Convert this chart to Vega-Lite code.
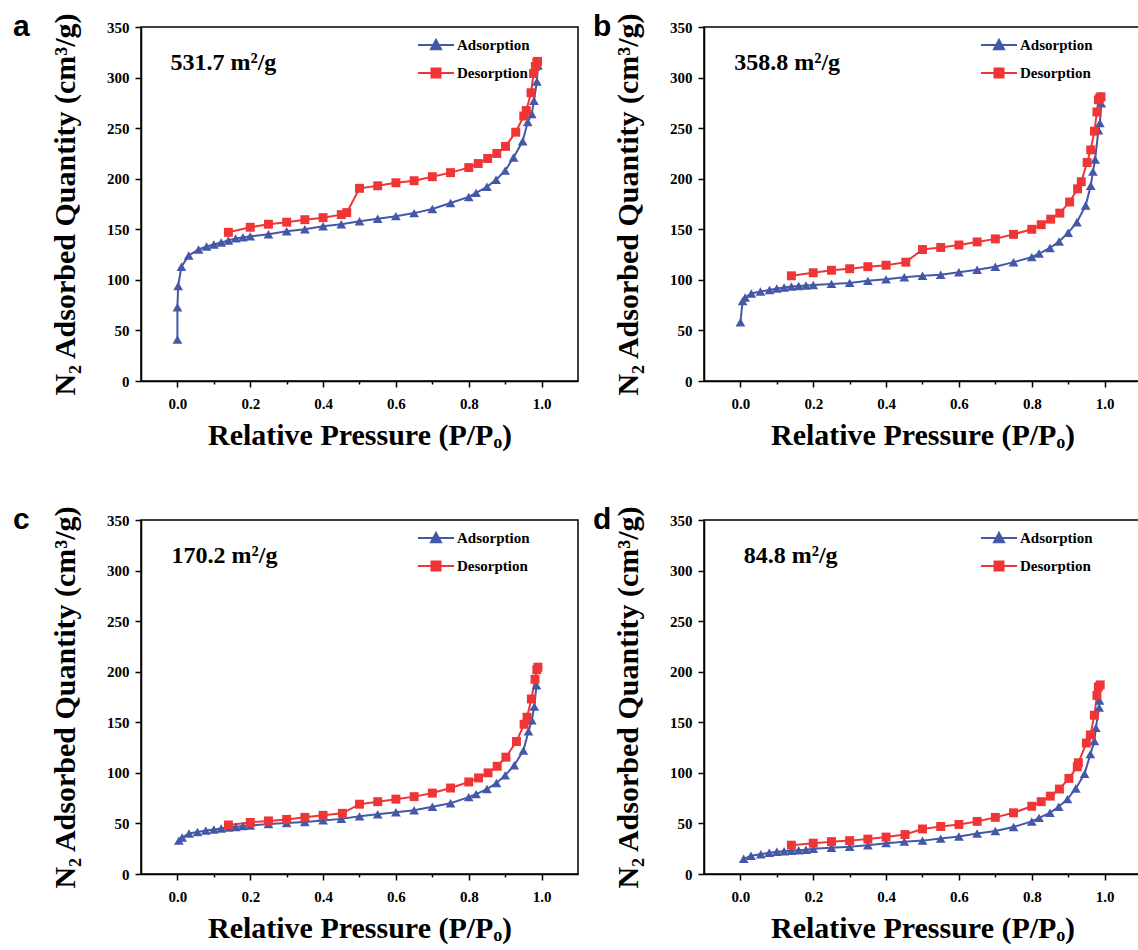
{
  "$schema": "https://vega.github.io/schema/vega-lite/v6.json",
  "background": "white",
  "padding": {"left": 12, "top": 11, "right": 0, "bottom": 0},
  "datasets": {
    "iso": [
      {"p":"a","s":"Adsorption","x":0,"y":41},{"p":"a","s":"Adsorption","x":0,"y":73},{"p":"a","s":"Adsorption","x":0.002,"y":94},{"p":"a","s":"Adsorption","x":0.011,"y":113},{"p":"a","s":"Adsorption","x":0.031,"y":124},{"p":"a","s":"Adsorption","x":0.058,"y":130},{"p":"a","s":"Adsorption","x":0.08,"y":133},{"p":"a","s":"Adsorption","x":0.1,"y":135},{"p":"a","s":"Adsorption","x":0.12,"y":137},{"p":"a","s":"Adsorption","x":0.14,"y":139},{"p":"a","s":"Adsorption","x":0.16,"y":141},{"p":"a","s":"Adsorption","x":0.18,"y":142},{"p":"a","s":"Adsorption","x":0.2,"y":143},{"p":"a","s":"Adsorption","x":0.25,"y":145},{"p":"a","s":"Adsorption","x":0.3,"y":148},{"p":"a","s":"Adsorption","x":0.35,"y":150},{"p":"a","s":"Adsorption","x":0.4,"y":153},{"p":"a","s":"Adsorption","x":0.45,"y":155},{"p":"a","s":"Adsorption","x":0.5,"y":158},{"p":"a","s":"Adsorption","x":0.55,"y":160.5},{"p":"a","s":"Adsorption","x":0.6,"y":163},{"p":"a","s":"Adsorption","x":0.65,"y":166},{"p":"a","s":"Adsorption","x":0.7,"y":170},{"p":"a","s":"Adsorption","x":0.75,"y":176},{"p":"a","s":"Adsorption","x":0.8,"y":182},{"p":"a","s":"Adsorption","x":0.82,"y":186},{"p":"a","s":"Adsorption","x":0.85,"y":192},{"p":"a","s":"Adsorption","x":0.875,"y":199},{"p":"a","s":"Adsorption","x":0.9,"y":208},{"p":"a","s":"Adsorption","x":0.923,"y":221},{"p":"a","s":"Adsorption","x":0.948,"y":237},{"p":"a","s":"Adsorption","x":0.962,"y":256},{"p":"a","s":"Adsorption","x":0.973,"y":264},{"p":"a","s":"Adsorption","x":0.979,"y":277},{"p":"a","s":"Adsorption","x":0.987,"y":296},{"p":"a","s":"Adsorption","x":0.99,"y":312},
      {"p":"a","s":"Desorption","x":0.14,"y":147},{"p":"a","s":"Desorption","x":0.2,"y":152},{"p":"a","s":"Desorption","x":0.25,"y":155},{"p":"a","s":"Desorption","x":0.3,"y":157},{"p":"a","s":"Desorption","x":0.35,"y":159.5},{"p":"a","s":"Desorption","x":0.4,"y":161.5},{"p":"a","s":"Desorption","x":0.45,"y":164.5},{"p":"a","s":"Desorption","x":0.465,"y":166.5},{"p":"a","s":"Desorption","x":0.5,"y":190.5},{"p":"a","s":"Desorption","x":0.55,"y":193},{"p":"a","s":"Desorption","x":0.6,"y":196},{"p":"a","s":"Desorption","x":0.65,"y":198},{"p":"a","s":"Desorption","x":0.7,"y":202},{"p":"a","s":"Desorption","x":0.75,"y":206},{"p":"a","s":"Desorption","x":0.8,"y":211},{"p":"a","s":"Desorption","x":0.826,"y":215},{"p":"a","s":"Desorption","x":0.852,"y":220},{"p":"a","s":"Desorption","x":0.877,"y":225},{"p":"a","s":"Desorption","x":0.901,"y":232},{"p":"a","s":"Desorption","x":0.929,"y":246},{"p":"a","s":"Desorption","x":0.951,"y":262},{"p":"a","s":"Desorption","x":0.958,"y":267.5},{"p":"a","s":"Desorption","x":0.971,"y":285},{"p":"a","s":"Desorption","x":0.978,"y":304},{"p":"a","s":"Desorption","x":0.983,"y":311},{"p":"a","s":"Desorption","x":0.987,"y":315},{"p":"a","s":"Desorption","x":0.989,"y":316},

      {"p":"b","s":"Adsorption","x":0,"y":58},{"p":"b","s":"Adsorption","x":0.006,"y":79},{"p":"b","s":"Adsorption","x":0.013,"y":82.5},{"p":"b","s":"Adsorption","x":0.03,"y":86.5},{"p":"b","s":"Adsorption","x":0.055,"y":88.5},{"p":"b","s":"Adsorption","x":0.08,"y":90},{"p":"b","s":"Adsorption","x":0.1,"y":91.5},{"p":"b","s":"Adsorption","x":0.12,"y":92.5},{"p":"b","s":"Adsorption","x":0.14,"y":93.5},{"p":"b","s":"Adsorption","x":0.16,"y":94},{"p":"b","s":"Adsorption","x":0.18,"y":94.5},{"p":"b","s":"Adsorption","x":0.2,"y":95},{"p":"b","s":"Adsorption","x":0.25,"y":96},{"p":"b","s":"Adsorption","x":0.3,"y":97},{"p":"b","s":"Adsorption","x":0.35,"y":99},{"p":"b","s":"Adsorption","x":0.4,"y":100.5},{"p":"b","s":"Adsorption","x":0.45,"y":102.5},{"p":"b","s":"Adsorption","x":0.5,"y":104},{"p":"b","s":"Adsorption","x":0.55,"y":105},{"p":"b","s":"Adsorption","x":0.6,"y":107.5},{"p":"b","s":"Adsorption","x":0.65,"y":110},{"p":"b","s":"Adsorption","x":0.7,"y":113},{"p":"b","s":"Adsorption","x":0.75,"y":117.5},{"p":"b","s":"Adsorption","x":0.8,"y":122.5},{"p":"b","s":"Adsorption","x":0.82,"y":126},{"p":"b","s":"Adsorption","x":0.85,"y":131.5},{"p":"b","s":"Adsorption","x":0.875,"y":138},{"p":"b","s":"Adsorption","x":0.9,"y":146.5},{"p":"b","s":"Adsorption","x":0.924,"y":157},{"p":"b","s":"Adsorption","x":0.948,"y":173.5},{"p":"b","s":"Adsorption","x":0.962,"y":193},{"p":"b","s":"Adsorption","x":0.968,"y":207},{"p":"b","s":"Adsorption","x":0.974,"y":219},{"p":"b","s":"Adsorption","x":0.983,"y":248},{"p":"b","s":"Adsorption","x":0.987,"y":255},{"p":"b","s":"Adsorption","x":0.991,"y":274.5},{"p":"b","s":"Adsorption","x":0.99,"y":282},
      {"p":"b","s":"Desorption","x":0.14,"y":104},{"p":"b","s":"Desorption","x":0.2,"y":107},{"p":"b","s":"Desorption","x":0.25,"y":109.5},{"p":"b","s":"Desorption","x":0.3,"y":111},{"p":"b","s":"Desorption","x":0.35,"y":113},{"p":"b","s":"Desorption","x":0.4,"y":114.5},{"p":"b","s":"Desorption","x":0.454,"y":117.5},{"p":"b","s":"Desorption","x":0.5,"y":130},{"p":"b","s":"Desorption","x":0.55,"y":132},{"p":"b","s":"Desorption","x":0.6,"y":134.5},{"p":"b","s":"Desorption","x":0.65,"y":137.5},{"p":"b","s":"Desorption","x":0.7,"y":140.5},{"p":"b","s":"Desorption","x":0.75,"y":145},{"p":"b","s":"Desorption","x":0.8,"y":150},{"p":"b","s":"Desorption","x":0.826,"y":154.5},{"p":"b","s":"Desorption","x":0.852,"y":160},{"p":"b","s":"Desorption","x":0.877,"y":166},{"p":"b","s":"Desorption","x":0.904,"y":177},{"p":"b","s":"Desorption","x":0.926,"y":190},{"p":"b","s":"Desorption","x":0.936,"y":197},{"p":"b","s":"Desorption","x":0.952,"y":216},{"p":"b","s":"Desorption","x":0.962,"y":228.5},{"p":"b","s":"Desorption","x":0.972,"y":247},{"p":"b","s":"Desorption","x":0.979,"y":266},{"p":"b","s":"Desorption","x":0.983,"y":278},{"p":"b","s":"Desorption","x":0.987,"y":280},{"p":"b","s":"Desorption","x":0.99,"y":281},

      {"p":"c","s":"Adsorption","x":0.004,"y":33},{"p":"c","s":"Adsorption","x":0.013,"y":36},{"p":"c","s":"Adsorption","x":0.032,"y":40},{"p":"c","s":"Adsorption","x":0.055,"y":41.5},{"p":"c","s":"Adsorption","x":0.078,"y":43},{"p":"c","s":"Adsorption","x":0.1,"y":44},{"p":"c","s":"Adsorption","x":0.12,"y":45},{"p":"c","s":"Adsorption","x":0.14,"y":46},{"p":"c","s":"Adsorption","x":0.16,"y":46.5},{"p":"c","s":"Adsorption","x":0.18,"y":47.5},{"p":"c","s":"Adsorption","x":0.2,"y":48},{"p":"c","s":"Adsorption","x":0.25,"y":49.5},{"p":"c","s":"Adsorption","x":0.3,"y":50.5},{"p":"c","s":"Adsorption","x":0.35,"y":51.5},{"p":"c","s":"Adsorption","x":0.4,"y":53},{"p":"c","s":"Adsorption","x":0.45,"y":54.5},{"p":"c","s":"Adsorption","x":0.5,"y":57},{"p":"c","s":"Adsorption","x":0.55,"y":59},{"p":"c","s":"Adsorption","x":0.6,"y":61},{"p":"c","s":"Adsorption","x":0.65,"y":63},{"p":"c","s":"Adsorption","x":0.7,"y":66.5},{"p":"c","s":"Adsorption","x":0.75,"y":70},{"p":"c","s":"Adsorption","x":0.8,"y":76},{"p":"c","s":"Adsorption","x":0.82,"y":79},{"p":"c","s":"Adsorption","x":0.85,"y":84},{"p":"c","s":"Adsorption","x":0.876,"y":90},{"p":"c","s":"Adsorption","x":0.9,"y":97.5},{"p":"c","s":"Adsorption","x":0.925,"y":107.5},{"p":"c","s":"Adsorption","x":0.95,"y":122},{"p":"c","s":"Adsorption","x":0.964,"y":141},{"p":"c","s":"Adsorption","x":0.973,"y":152},{"p":"c","s":"Adsorption","x":0.98,"y":165.5},{"p":"c","s":"Adsorption","x":0.986,"y":186.5},
      {"p":"c","s":"Desorption","x":0.14,"y":48.5},{"p":"c","s":"Desorption","x":0.2,"y":51},{"p":"c","s":"Desorption","x":0.25,"y":52.5},{"p":"c","s":"Desorption","x":0.3,"y":54},{"p":"c","s":"Desorption","x":0.35,"y":56},{"p":"c","s":"Desorption","x":0.4,"y":58},{"p":"c","s":"Desorption","x":0.453,"y":60},{"p":"c","s":"Desorption","x":0.5,"y":69},{"p":"c","s":"Desorption","x":0.55,"y":71.5},{"p":"c","s":"Desorption","x":0.6,"y":74},{"p":"c","s":"Desorption","x":0.65,"y":76.5},{"p":"c","s":"Desorption","x":0.7,"y":80},{"p":"c","s":"Desorption","x":0.75,"y":85},{"p":"c","s":"Desorption","x":0.8,"y":91},{"p":"c","s":"Desorption","x":0.827,"y":95},{"p":"c","s":"Desorption","x":0.853,"y":100},{"p":"c","s":"Desorption","x":0.878,"y":106.5},{"p":"c","s":"Desorption","x":0.902,"y":115.5},{"p":"c","s":"Desorption","x":0.931,"y":131},{"p":"c","s":"Desorption","x":0.952,"y":148},{"p":"c","s":"Desorption","x":0.96,"y":155},{"p":"c","s":"Desorption","x":0.972,"y":173},{"p":"c","s":"Desorption","x":0.982,"y":192.5},{"p":"c","s":"Desorption","x":0.987,"y":202},{"p":"c","s":"Desorption","x":0.99,"y":204.5},

      {"p":"d","s":"Adsorption","x":0.009,"y":15},{"p":"d","s":"Adsorption","x":0.029,"y":18},{"p":"d","s":"Adsorption","x":0.056,"y":19.5},{"p":"d","s":"Adsorption","x":0.079,"y":21},{"p":"d","s":"Adsorption","x":0.1,"y":22},{"p":"d","s":"Adsorption","x":0.12,"y":22.5},{"p":"d","s":"Adsorption","x":0.14,"y":23},{"p":"d","s":"Adsorption","x":0.16,"y":23.5},{"p":"d","s":"Adsorption","x":0.18,"y":24},{"p":"d","s":"Adsorption","x":0.2,"y":25},{"p":"d","s":"Adsorption","x":0.25,"y":26},{"p":"d","s":"Adsorption","x":0.3,"y":27},{"p":"d","s":"Adsorption","x":0.35,"y":28.5},{"p":"d","s":"Adsorption","x":0.4,"y":30.5},{"p":"d","s":"Adsorption","x":0.45,"y":32},{"p":"d","s":"Adsorption","x":0.5,"y":33},{"p":"d","s":"Adsorption","x":0.55,"y":35},{"p":"d","s":"Adsorption","x":0.6,"y":37},{"p":"d","s":"Adsorption","x":0.65,"y":40},{"p":"d","s":"Adsorption","x":0.7,"y":42.5},{"p":"d","s":"Adsorption","x":0.75,"y":46.5},{"p":"d","s":"Adsorption","x":0.8,"y":52},{"p":"d","s":"Adsorption","x":0.82,"y":55.5},{"p":"d","s":"Adsorption","x":0.85,"y":60.5},{"p":"d","s":"Adsorption","x":0.874,"y":66.5},{"p":"d","s":"Adsorption","x":0.898,"y":74},{"p":"d","s":"Adsorption","x":0.921,"y":84.5},{"p":"d","s":"Adsorption","x":0.945,"y":99},{"p":"d","s":"Adsorption","x":0.961,"y":118.5},{"p":"d","s":"Adsorption","x":0.972,"y":131.5},{"p":"d","s":"Adsorption","x":0.976,"y":144.5},{"p":"d","s":"Adsorption","x":0.985,"y":164.5},{"p":"d","s":"Adsorption","x":0.986,"y":171.5},
      {"p":"d","s":"Desorption","x":0.14,"y":28.5},{"p":"d","s":"Desorption","x":0.2,"y":30.5},{"p":"d","s":"Desorption","x":0.25,"y":32},{"p":"d","s":"Desorption","x":0.3,"y":33},{"p":"d","s":"Desorption","x":0.35,"y":34.5},{"p":"d","s":"Desorption","x":0.4,"y":36.5},{"p":"d","s":"Desorption","x":0.452,"y":39},{"p":"d","s":"Desorption","x":0.5,"y":44.5},{"p":"d","s":"Desorption","x":0.55,"y":47},{"p":"d","s":"Desorption","x":0.6,"y":49},{"p":"d","s":"Desorption","x":0.65,"y":52},{"p":"d","s":"Desorption","x":0.7,"y":56},{"p":"d","s":"Desorption","x":0.75,"y":60.5},{"p":"d","s":"Desorption","x":0.8,"y":67},{"p":"d","s":"Desorption","x":0.826,"y":71.5},{"p":"d","s":"Desorption","x":0.851,"y":77},{"p":"d","s":"Desorption","x":0.876,"y":84},{"p":"d","s":"Desorption","x":0.902,"y":94.5},{"p":"d","s":"Desorption","x":0.925,"y":106},{"p":"d","s":"Desorption","x":0.928,"y":110},{"p":"d","s":"Desorption","x":0.95,"y":129.5},{"p":"d","s":"Desorption","x":0.961,"y":137.5},{"p":"d","s":"Desorption","x":0.972,"y":157},{"p":"d","s":"Desorption","x":0.979,"y":176.5},{"p":"d","s":"Desorption","x":0.983,"y":185},{"p":"d","s":"Desorption","x":0.988,"y":187}
    ],
    "ann": [
      {"p":"a","x":-0.019,"y":307,"t":"531.7 m²/g"},
      {"p":"b","x":-0.017,"y":307,"t":"358.8 m²/g"},
      {"p":"c","x":-0.016,"y":307,"t":"170.2 m²/g"},
      {"p":"d","x":0.009,"y":307,"t":"84.8 m²/g"}
    ]
  },
  "columns": 2,
  "spacing": {"row": 53, "column": 13},
  "resolve": {"scale": {"color": "independent", "x": "independent", "y": "independent"}, "legend": {"color": "independent"}},
  "concat": [
    {
      "title": {"text": "a", "anchor": "start", "frame": "group", "dx": -128, "dy": 54, "offset": 0, "baseline": "alphabetic", "font": "Liberation Sans", "fontSize": 30, "fontWeight": "bold", "color": "black"},
      "width": 437, "height": 354,
      "layer": [
        {"data": {"name": "iso"}, "transform": [{"filter": "datum.p === 'a'"}], "mark": {"type": "line", "strokeWidth": 2}, "encoding": {
          "x": {"field": "x", "type": "quantitative", "scale": {"domain": [-0.1, 1.1], "nice": false, "zero": false}, "axis": {"title": "Relative Pressure (P/Pₒ)", "values": [0,0.1,0.2,0.3,0.4,0.5,0.6,0.7,0.8,0.9,1.0], "labelExpr": "round(datum.value*10) % 2 === 0 ? format(datum.value, '.1f') : ''", "tickSize": {"condition": {"test": "round(datum.value*10) % 2 === 0", "value": 6}, "value": 3}}},
          "y": {"field": "y", "type": "quantitative", "scale": {"domain": [0, 350], "nice": false}, "axis": {"title": "N₂ Adsorbed Quantity (cm³/g)", "values": [0,25,50,75,100,125,150,175,200,225,250,275,300,325,350], "labelExpr": "datum.value % 50 === 0 ? datum.label : ''", "tickSize": {"condition": {"test": "datum.value % 50 === 0", "value": 6}, "value": 3}}},
          "color": {"field": "s", "type": "nominal", "scale": {"domain": ["Adsorption", "Desorption"], "range": ["#4558A8", "#EF3535"]}, "legend": {"encode": {"symbols": {"update": {
            "shape": {"signal": "datum.value === 'Adsorption' ? 'M-1,0H1M-0.28,0.24L0,-0.28L0.28,0.24Z' : 'M-1,0H1M-0.25,-0.25H0.25V0.25H-0.25Z'"},
            "fill": {"signal": "datum.value === 'Adsorption' ? '#4558A8' : '#EF3535'"},
            "stroke": {"signal": "datum.value === 'Adsorption' ? '#4558A8' : '#EF3535'"},
            "strokeWidth": {"value": 2}, "opacity": {"value": 1}}}}}},
          "order": {"field": "y", "type": "quantitative"}}},
        {"data": {"name": "iso"}, "transform": [{"filter": "datum.p === 'a' && datum.s === 'Adsorption'"}], "mark": {"type": "point", "filled": true, "shape": "triangle-up", "size": 95, "opacity": 1}, "encoding": {
          "x": {"field": "x", "type": "quantitative"}, "y": {"field": "y", "type": "quantitative"}, "color": {"field": "s", "type": "nominal"}}},
        {"data": {"name": "iso"}, "transform": [{"filter": "datum.p === 'a' && datum.s === 'Desorption'"}], "mark": {"type": "point", "filled": true, "shape": "square", "size": 80, "opacity": 1}, "encoding": {
          "x": {"field": "x", "type": "quantitative"}, "y": {"field": "y", "type": "quantitative"}, "color": {"field": "s", "type": "nominal"}}},
        {"data": {"name": "ann"}, "transform": [{"filter": "datum.p === 'a'"}], "mark": {"type": "text", "align": "left", "baseline": "alphabetic", "font": "Liberation Serif", "fontSize": 24, "fontWeight": "bold", "color": "black"}, "encoding": {
          "x": {"field": "x", "type": "quantitative"}, "y": {"field": "y", "type": "quantitative"}, "text": {"field": "t"}}}
      ]
    },
    {
      "title": {"text": "b", "anchor": "start", "frame": "group", "dx": -111, "dy": 54, "offset": 0, "baseline": "alphabetic", "font": "Liberation Sans", "fontSize": 30, "fontWeight": "bold", "color": "black"},
      "width": 437, "height": 354,
      "layer": [
        {"data": {"name": "iso"}, "transform": [{"filter": "datum.p === 'b'"}], "mark": {"type": "line", "strokeWidth": 2}, "encoding": {
          "x": {"field": "x", "type": "quantitative", "scale": {"domain": [-0.1, 1.1], "nice": false, "zero": false}, "axis": {"title": "Relative Pressure (P/Pₒ)", "values": [0,0.1,0.2,0.3,0.4,0.5,0.6,0.7,0.8,0.9,1.0], "labelExpr": "round(datum.value*10) % 2 === 0 ? format(datum.value, '.1f') : ''", "tickSize": {"condition": {"test": "round(datum.value*10) % 2 === 0", "value": 6}, "value": 3}}},
          "y": {"field": "y", "type": "quantitative", "scale": {"domain": [0, 350], "nice": false}, "axis": {"title": "N₂ Adsorbed Quantity (cm³/g)", "values": [0,25,50,75,100,125,150,175,200,225,250,275,300,325,350], "labelExpr": "datum.value % 50 === 0 ? datum.label : ''", "tickSize": {"condition": {"test": "datum.value % 50 === 0", "value": 6}, "value": 3}}},
          "color": {"field": "s", "type": "nominal", "scale": {"domain": ["Adsorption", "Desorption"], "range": ["#4558A8", "#EF3535"]}, "legend": {"encode": {"symbols": {"update": {
            "shape": {"signal": "datum.value === 'Adsorption' ? 'M-1,0H1M-0.28,0.24L0,-0.28L0.28,0.24Z' : 'M-1,0H1M-0.25,-0.25H0.25V0.25H-0.25Z'"},
            "fill": {"signal": "datum.value === 'Adsorption' ? '#4558A8' : '#EF3535'"},
            "stroke": {"signal": "datum.value === 'Adsorption' ? '#4558A8' : '#EF3535'"},
            "strokeWidth": {"value": 2}, "opacity": {"value": 1}}}}}},
          "order": {"field": "y", "type": "quantitative"}}},
        {"data": {"name": "iso"}, "transform": [{"filter": "datum.p === 'b' && datum.s === 'Adsorption'"}], "mark": {"type": "point", "filled": true, "shape": "triangle-up", "size": 95, "opacity": 1}, "encoding": {
          "x": {"field": "x", "type": "quantitative"}, "y": {"field": "y", "type": "quantitative"}, "color": {"field": "s", "type": "nominal"}}},
        {"data": {"name": "iso"}, "transform": [{"filter": "datum.p === 'b' && datum.s === 'Desorption'"}], "mark": {"type": "point", "filled": true, "shape": "square", "size": 80, "opacity": 1}, "encoding": {
          "x": {"field": "x", "type": "quantitative"}, "y": {"field": "y", "type": "quantitative"}, "color": {"field": "s", "type": "nominal"}}},
        {"data": {"name": "ann"}, "transform": [{"filter": "datum.p === 'b'"}], "mark": {"type": "text", "align": "left", "baseline": "alphabetic", "font": "Liberation Serif", "fontSize": 24, "fontWeight": "bold", "color": "black"}, "encoding": {
          "x": {"field": "x", "type": "quantitative"}, "y": {"field": "y", "type": "quantitative"}, "text": {"field": "t"}}}
      ]
    },
    {
      "title": {"text": "c", "anchor": "start", "frame": "group", "dx": -128, "dy": 54, "offset": 0, "baseline": "alphabetic", "font": "Liberation Sans", "fontSize": 30, "fontWeight": "bold", "color": "black"},
      "width": 437, "height": 354,
      "layer": [
        {"data": {"name": "iso"}, "transform": [{"filter": "datum.p === 'c'"}], "mark": {"type": "line", "strokeWidth": 2}, "encoding": {
          "x": {"field": "x", "type": "quantitative", "scale": {"domain": [-0.1, 1.1], "nice": false, "zero": false}, "axis": {"title": "Relative Pressure (P/Pₒ)", "values": [0,0.1,0.2,0.3,0.4,0.5,0.6,0.7,0.8,0.9,1.0], "labelExpr": "round(datum.value*10) % 2 === 0 ? format(datum.value, '.1f') : ''", "tickSize": {"condition": {"test": "round(datum.value*10) % 2 === 0", "value": 6}, "value": 3}}},
          "y": {"field": "y", "type": "quantitative", "scale": {"domain": [0, 350], "nice": false}, "axis": {"title": "N₂ Adsorbed Quantity (cm³/g)", "values": [0,25,50,75,100,125,150,175,200,225,250,275,300,325,350], "labelExpr": "datum.value % 50 === 0 ? datum.label : ''", "tickSize": {"condition": {"test": "datum.value % 50 === 0", "value": 6}, "value": 3}}},
          "color": {"field": "s", "type": "nominal", "scale": {"domain": ["Adsorption", "Desorption"], "range": ["#4558A8", "#EF3535"]}, "legend": {"encode": {"symbols": {"update": {
            "shape": {"signal": "datum.value === 'Adsorption' ? 'M-1,0H1M-0.28,0.24L0,-0.28L0.28,0.24Z' : 'M-1,0H1M-0.25,-0.25H0.25V0.25H-0.25Z'"},
            "fill": {"signal": "datum.value === 'Adsorption' ? '#4558A8' : '#EF3535'"},
            "stroke": {"signal": "datum.value === 'Adsorption' ? '#4558A8' : '#EF3535'"},
            "strokeWidth": {"value": 2}, "opacity": {"value": 1}}}}}},
          "order": {"field": "y", "type": "quantitative"}}},
        {"data": {"name": "iso"}, "transform": [{"filter": "datum.p === 'c' && datum.s === 'Adsorption'"}], "mark": {"type": "point", "filled": true, "shape": "triangle-up", "size": 95, "opacity": 1}, "encoding": {
          "x": {"field": "x", "type": "quantitative"}, "y": {"field": "y", "type": "quantitative"}, "color": {"field": "s", "type": "nominal"}}},
        {"data": {"name": "iso"}, "transform": [{"filter": "datum.p === 'c' && datum.s === 'Desorption'"}], "mark": {"type": "point", "filled": true, "shape": "square", "size": 80, "opacity": 1}, "encoding": {
          "x": {"field": "x", "type": "quantitative"}, "y": {"field": "y", "type": "quantitative"}, "color": {"field": "s", "type": "nominal"}}},
        {"data": {"name": "ann"}, "transform": [{"filter": "datum.p === 'c'"}], "mark": {"type": "text", "align": "left", "baseline": "alphabetic", "font": "Liberation Serif", "fontSize": 24, "fontWeight": "bold", "color": "black"}, "encoding": {
          "x": {"field": "x", "type": "quantitative"}, "y": {"field": "y", "type": "quantitative"}, "text": {"field": "t"}}}
      ]
    },
    {
      "title": {"text": "d", "anchor": "start", "frame": "group", "dx": -111, "dy": 54, "offset": 0, "baseline": "alphabetic", "font": "Liberation Sans", "fontSize": 30, "fontWeight": "bold", "color": "black"},
      "width": 437, "height": 354,
      "layer": [
        {"data": {"name": "iso"}, "transform": [{"filter": "datum.p === 'd'"}], "mark": {"type": "line", "strokeWidth": 2}, "encoding": {
          "x": {"field": "x", "type": "quantitative", "scale": {"domain": [-0.1, 1.1], "nice": false, "zero": false}, "axis": {"title": "Relative Pressure (P/Pₒ)", "values": [0,0.1,0.2,0.3,0.4,0.5,0.6,0.7,0.8,0.9,1.0], "labelExpr": "round(datum.value*10) % 2 === 0 ? format(datum.value, '.1f') : ''", "tickSize": {"condition": {"test": "round(datum.value*10) % 2 === 0", "value": 6}, "value": 3}}},
          "y": {"field": "y", "type": "quantitative", "scale": {"domain": [0, 350], "nice": false}, "axis": {"title": "N₂ Adsorbed Quantity (cm³/g)", "values": [0,25,50,75,100,125,150,175,200,225,250,275,300,325,350], "labelExpr": "datum.value % 50 === 0 ? datum.label : ''", "tickSize": {"condition": {"test": "datum.value % 50 === 0", "value": 6}, "value": 3}}},
          "color": {"field": "s", "type": "nominal", "scale": {"domain": ["Adsorption", "Desorption"], "range": ["#4558A8", "#EF3535"]}, "legend": {"encode": {"symbols": {"update": {
            "shape": {"signal": "datum.value === 'Adsorption' ? 'M-1,0H1M-0.28,0.24L0,-0.28L0.28,0.24Z' : 'M-1,0H1M-0.25,-0.25H0.25V0.25H-0.25Z'"},
            "fill": {"signal": "datum.value === 'Adsorption' ? '#4558A8' : '#EF3535'"},
            "stroke": {"signal": "datum.value === 'Adsorption' ? '#4558A8' : '#EF3535'"},
            "strokeWidth": {"value": 2}, "opacity": {"value": 1}}}}}},
          "order": {"field": "y", "type": "quantitative"}}},
        {"data": {"name": "iso"}, "transform": [{"filter": "datum.p === 'd' && datum.s === 'Adsorption'"}], "mark": {"type": "point", "filled": true, "shape": "triangle-up", "size": 95, "opacity": 1}, "encoding": {
          "x": {"field": "x", "type": "quantitative"}, "y": {"field": "y", "type": "quantitative"}, "color": {"field": "s", "type": "nominal"}}},
        {"data": {"name": "iso"}, "transform": [{"filter": "datum.p === 'd' && datum.s === 'Desorption'"}], "mark": {"type": "point", "filled": true, "shape": "square", "size": 80, "opacity": 1}, "encoding": {
          "x": {"field": "x", "type": "quantitative"}, "y": {"field": "y", "type": "quantitative"}, "color": {"field": "s", "type": "nominal"}}},
        {"data": {"name": "ann"}, "transform": [{"filter": "datum.p === 'd'"}], "mark": {"type": "text", "align": "left", "baseline": "alphabetic", "font": "Liberation Serif", "fontSize": 24, "fontWeight": "bold", "color": "black"}, "encoding": {
          "x": {"field": "x", "type": "quantitative"}, "y": {"field": "y", "type": "quantitative"}, "text": {"field": "t"}}}
      ]
    }
  ],
  "config": {
    "view": {"stroke": "black", "strokeWidth": 1.5},
    "axis": {"grid": false, "domainColor": "black", "domainWidth": 1.5, "tickColor": "black", "tickWidth": 1.5, "labelFont": "Liberation Serif", "labelFontWeight": "bold", "labelColor": "black", "labelOverlap": false, "titleFont": "Liberation Serif", "titleFontWeight": "bold", "titleFontSize": 30, "titleColor": "black"},
    "axisX": {"titlePadding": 9, "labelPadding": 9, "labelFontSize": 15},
    "axisY": {"titlePadding": 26, "labelPadding": 6, "labelFontSize": 15},
    "legend": {
      "orient": "none", "legendX": 276, "legendY": -1, "title": null, "padding": 0,
      "labelFont": "Liberation Serif", "labelFontWeight": "bold", "labelFontSize": 15, "labelColor": "black", "labelOffset": 2,
      "symbolSize": 1296, "symbolStrokeWidth": 2, "rowPadding": -8
    }
  }
}
